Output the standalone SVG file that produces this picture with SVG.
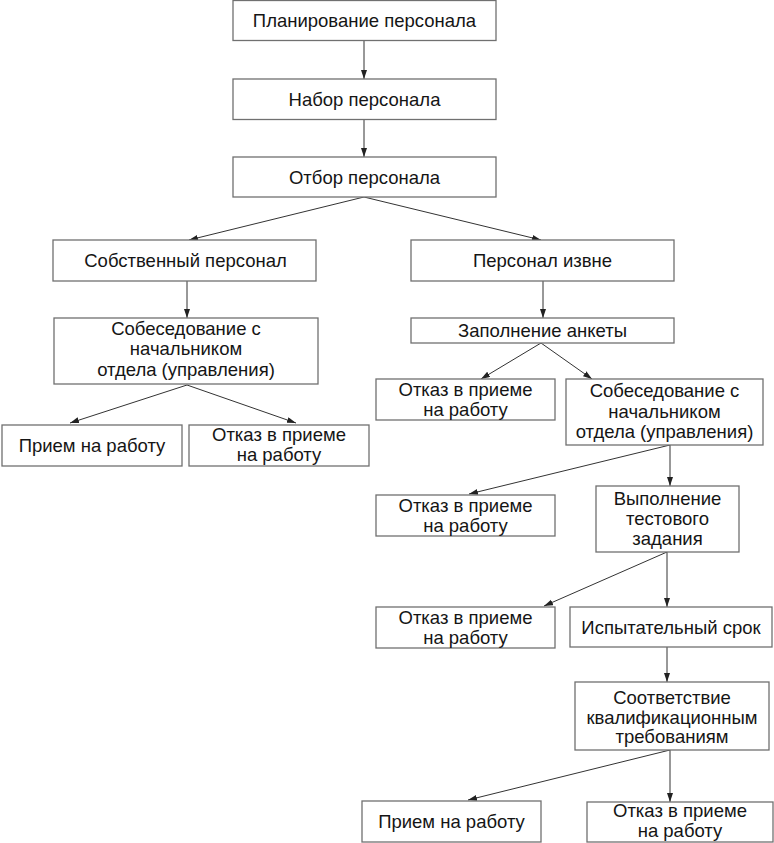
<svg xmlns="http://www.w3.org/2000/svg" width="774" height="843" viewBox="0 0 774 843">
<style>
rect{fill:#fff;stroke:#707070;stroke-width:1.3}
text{font-family:"Liberation Sans",Arial,sans-serif;font-size:18.5px;fill:#151515;text-anchor:middle}
.c line{stroke:#333;stroke-width:1;marker-end:url(#ah)}
</style>
<defs>
<marker id="ah" markerUnits="userSpaceOnUse" markerWidth="10" markerHeight="7" refX="9" refY="3" orient="auto"><path d="M0,0 L9,3 L0,6 z" fill="#222"/></marker>
</defs>
<rect x="0" y="0" width="774" height="843" style="fill:#fff;stroke:none"/>
<g class="c" id="connectors">
<line x1="364" y1="41" x2="364" y2="79"/>
<line x1="364" y1="120" x2="364" y2="157"/>
<line x1="364" y1="197" x2="189" y2="240"/>
<line x1="364" y1="197" x2="541" y2="240"/>
<line x1="187" y1="281" x2="187" y2="318"/>
<line x1="543" y1="281" x2="543" y2="318"/>
<line x1="187" y1="385" x2="70" y2="423"/>
<line x1="187" y1="385" x2="296" y2="423"/>
<line x1="541" y1="343" x2="481" y2="379"/>
<line x1="541" y1="343" x2="592" y2="379"/>
<line x1="670" y1="445" x2="469" y2="494"/>
<line x1="670" y1="445" x2="670" y2="486"/>
<line x1="667" y1="552" x2="544" y2="606"/>
<line x1="667" y1="552" x2="667" y2="607"/>
<line x1="667" y1="647" x2="667" y2="682"/>
<line x1="670" y1="750" x2="468" y2="800"/>
<line x1="670" y1="750" x2="670" y2="802"/>
</g>
<g id="n1"><rect x="233" y="0.5" width="263" height="40"/><text x="364.5" y="27">Планирование персонала</text></g>
<g id="n2"><rect x="233" y="79" width="263" height="40.5"/><text x="364.5" y="106">Набор персонала</text></g>
<g id="n3"><rect x="233" y="157" width="263" height="40"/><text x="364.5" y="184">Отбор персонала</text></g>
<g id="n4"><rect x="53" y="240" width="263" height="41"/><text x="185.5" y="267">Собственный персонал</text></g>
<g id="n5"><rect x="411" y="240" width="263" height="41"/><text x="542.5" y="267">Персонал извне</text></g>
<g id="n6"><rect x="54" y="318" width="264" height="66"/><text x="186" y="334.5">Собеседование с</text><text x="186" y="355">начальником</text><text x="186" y="375.5">отдела (управления)</text></g>
<g id="n7"><rect x="411" y="318" width="263" height="25"/><text x="542.5" y="336.5">Заполнение анкеты</text></g>
<g id="n8"><rect x="2" y="425" width="180" height="41"/><text x="92" y="452">Прием на работу</text></g>
<g id="n9"><rect x="189" y="425" width="180" height="41"/><text x="279" y="441">Отказ в приеме</text><text x="279" y="461">на работу</text></g>
<g id="n10"><rect x="376" y="379" width="179" height="41"/><text x="465.5" y="395.5">Отказ в приеме</text><text x="465.5" y="415.5">на работу</text></g>
<g id="n11"><rect x="566" y="379" width="197" height="66"/><text x="664.5" y="397">Собеседование с</text><text x="664.5" y="417.5">начальником</text><text x="664.5" y="437.5">отдела (управления)</text></g>
<g id="n12"><rect x="376" y="495" width="179" height="41"/><text x="465.5" y="511.5">Отказ в приеме</text><text x="465.5" y="531.5">на работу</text></g>
<g id="n13"><rect x="596" y="486" width="143" height="66"/><text x="667.5" y="504.5">Выполнение</text><text x="667.5" y="524.5">тестового</text><text x="667.5" y="544.5">задания</text></g>
<g id="n14"><rect x="376" y="607" width="179" height="41"/><text x="465.5" y="623.5">Отказ в приеме</text><text x="465.5" y="643.5">на работу</text></g>
<g id="n15"><rect x="570" y="607" width="202" height="40"/><text x="671" y="633.5">Испытательный срок</text></g>
<g id="n16"><rect x="575" y="682" width="194" height="68"/><text x="672" y="703.5">Соответствие</text><text x="672" y="723.5">квалификационным</text><text x="672" y="743">требованиям</text></g>
<g id="n17"><rect x="362" y="801" width="179" height="41"/><text x="451.5" y="828">Прием на работу</text></g>
<g id="n18"><rect x="587" y="802" width="186" height="40"/><text x="680" y="816.5">Отказ в приеме</text><text x="680" y="837">на работу</text></g>
</svg>
